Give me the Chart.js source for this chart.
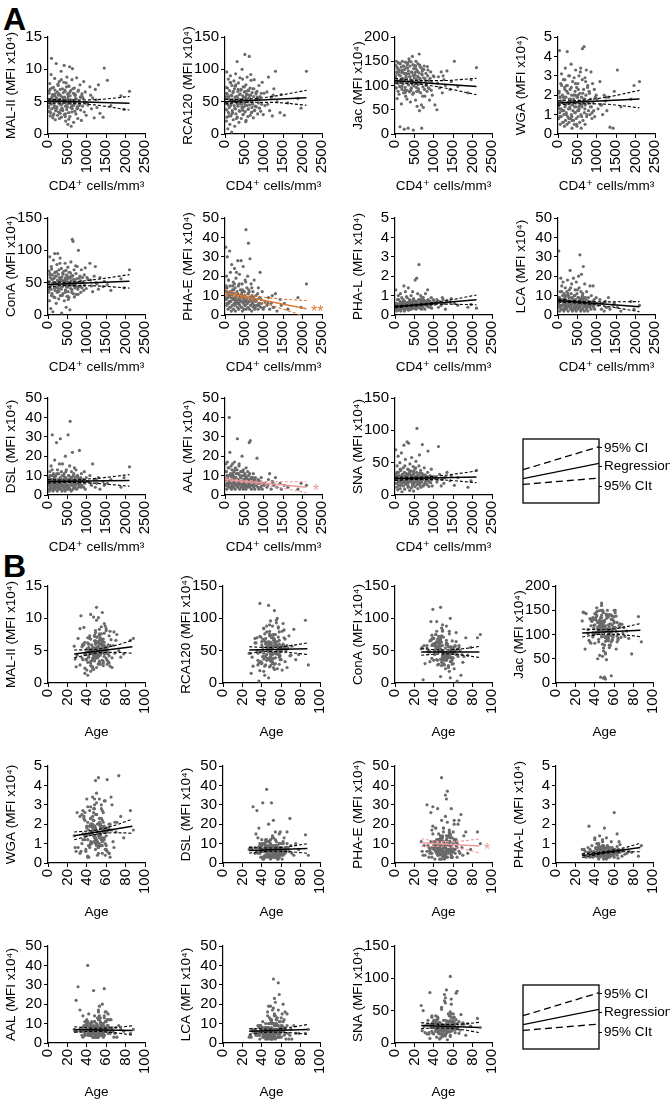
<!DOCTYPE html>
<html><head><meta charset="utf-8">
<script src="https://cdn.jsdelivr.net/npm/chart.js@4.4.1/dist/chart.umd.min.js"></script>
<style>
body{margin:0;background:#fff;width:670px;height:1102px;position:relative;overflow:hidden;font-family:'Liberation Sans',Arial,sans-serif}
canvas{position:absolute}
.lab{position:absolute;font-weight:bold;font-size:32px;line-height:1;color:#000}
</style></head><body>
<div class="lab" style="left:3px;top:3px">A</div>
<div class="lab" style="left:3px;top:550px">B</div>
<script>
// ---------- patient data (CD4 count, age) ----------
const cd4 = [15,20,30,38,45,55,60,72,80,85,90,98,
110,118,125,130,140,150,158,165,172,180,188,195,
205,212,220,230,238,245,250,262,268,275,283,290,
305,312,318,330,338,345,352,360,372,378,385,398,
402,415,420,428,440,448,455,468,472,480,488,495,
505,512,518,530,540,545,558,565,570,585,590,598,
605,618,625,630,645,652,660,672,680,688,698,
705,720,730,738,752,768,785,798,
810,825,842,850,860,875,890,
905,920,935,945,960,985,
1030,1080,1120,1150,1190,1220,1260,1300,1340,1420,1450,
1530,1620,1880,1960,2100,
8,25,50,65,95,105,135,145,178,198,
215,225,255,280,295,308,325,342,365,390,
410,435,452,462,478,500,522,535,552,578,
595,610,638,665,692,712,745,775,802,835,
52,148,242,325,408,515,612,695,880,1005,
33,177,266,357,444,533,640,760,1100,1240];
const age = [45,52,38,61,49,55,33,47,58,42,
50,66,41,53,29,57,48,44,62,51,
37,54,46,59,40,56,35,63,49,52,
43,71,48,55,39,60,47,53,31,58,
50,45,64,42,54,36,57,49,61,44,
52,27,56,47,40,68,51,46,59,43,
55,38,50,62,48,53,34,57,45,65,
49,41,54,60,47,52,39,58,44,73,
51,46,56,36,63,48,55,42,50,57,
45,69,53,40,58,47,52,30,61,49,
44,56,48,54,78,43,51,59,46,88,
50,55,41,64,47,53,38,57,49,85,
48,53,42,57,50,36,61,45,55,39,
52,47,58,43,66,49,54,33,60,46,
51,44,57,40,63,48,55,38,50,59,
46,53,41,62,49,56,35,70,47,52,
43,58,50,28,64,45,54,41,67,49,
56,37,51,60,44,53,47,75,42,58];

// ---------- lectin MFI (x10^4) ----------
const MAL = [5.2,4.1,6.3,3.5,7.8,5.0,2.8,4.6,9.2,5.5,11.7,3.9,
4.8,6.1,2.5,5.3,7.2,3.1,5.9,4.4,8.6,6.8,2.2,5.1,
3.7,10.9,5.6,4.2,6.5,2.9,5.0,7.5,3.4,6.0,4.7,8.1,
5.4,3.2,6.9,4.5,9.7,2.6,5.8,4.0,7.0,3.6,5.2,6.4,
4.9,10.6,3.0,5.7,6.6,4.3,2.0,7.9,5.1,3.8,8.8,4.6,
6.2,1.5,5.5,3.3,7.4,4.8,10.4,2.7,5.9,6.7,4.1,1.2,
5.3,8.4,3.9,10.1,4.4,6.3,1.8,5.0,7.1,3.5,4.7,
6.0,3.1,5.4,8.7,4.2,2.4,6.8,5.1,
4.6,7.6,3.7,5.8,2.1,6.2,4.3,
5.5,8.1,3.4,4.9,6.5,2.9,
4.5,7.3,3.9,5.6,2.5,6.9,4.1,7.6,3.2,2.6,10.2,
8.3,4.4,5.9,3.8,6.6,
4.3,6.6,5.0,3.3,7.1,5.8,2.9,4.8,6.2,3.6,
5.4,4.0,7.7,5.2,2.4,6.1,4.6,8.4,3.8,5.6,
4.9,6.8,3.1,5.3,7.3,4.2,5.9,2.3,6.4,4.7,
5.1,3.4,7.0,4.5,6.0,5.5,3.9,6.6,4.4,5.7,
6.9,4.1,5.3,3.7,8.0,5.0,4.3,6.2,5.8,4.8,
3.5,5.9,6.3,4.6,2.7,7.4,5.2,4.0,6.0,5.3];
const RCA = [55,38,72,20,96,48,62,8,45,85,33,58,
41,67,15,52,90,28,60,47,3,75,36,53,
64,22,50,82,44,70,12,57,39,93,31,49,
58,112,26,66,43,79,54,18,61,35,87,47,
52,69,24,46,100,37,59,73,30,55,42,65,
48,123,34,57,76,21,62,44,88,50,27,68,
39,56,120,45,71,29,60,83,33,51,64,
46,70,25,58,84,37,53,62,
42,66,31,55,48,75,40,
58,35,63,46,80,30,
44,65,88,36,57,28,70,97,50,33,61,
29,48,55,40,97,
49,63,37,71,55,28,80,44,59,33,
66,51,40,76,24,58,47,69,36,62,
53,42,85,30,57,73,45,19,61,50,
38,67,55,92,34,48,70,43,64,57,
26,79,52,46,68,35,60,41,54,63,
58,31,74,49,40,66,53,36,46,60];
const JAC = [118,142,95,150,128,73,110,135,88,147,105,122,
132,98,145,15,120,108,138,62,127,92,150,115,
103,140,85,125,10,133,112,96,148,78,119,137,
124,90,143,108,12,130,101,155,87,118,140,66,
112,149,95,128,106,160,82,121,8,135,99,116,
141,104,127,70,150,112,88,131,57,119,145,102,
93,126,165,48,113,138,85,107,60,12,122,
130,97,55,116,140,78,109,125,
103,88,120,132,95,110,70,
115,128,90,106,80,120,
60,50,118,95,128,85,112,100,130,92,108,
150,98,85,112,137,
120,95,138,105,128,82,145,112,98,131,
108,140,90,125,115,72,136,102,150,118,
93,127,110,143,85,121,104,135,96,129,
117,88,142,106,124,78,133,114,100,139,
126,97,113,146,89,122,107,135,94,118,
110,131,86,124,103,140,115,92,105,120];
const WGA = [1.5,0.8,2.2,4.3,1.1,1.9,0.5,2.6,1.3,0.9,3.1,1.7,
1.2,2.0,0.6,1.6,2.8,1.0,1.8,0.4,2.4,1.4,3.4,0.7,
1.9,1.1,2.5,0.5,4.25,1.6,0.9,2.1,1.3,3.0,0.6,1.8,
1.4,2.3,0.8,1.7,3.6,1.0,2.0,0.3,1.5,2.7,1.2,0.7,
1.8,2.9,0.5,1.4,2.2,1.1,3.3,0.8,1.6,2.4,0.4,1.9,
1.2,2.6,0.9,1.7,3.0,1.3,0.6,2.1,1.5,3.4,1.0,0.3,
1.9,1.4,2.8,4.4,0.7,1.6,2.3,4.5,1.1,1.8,0.5,
1.5,2.0,3.3,0.9,1.7,2.5,1.2,1.6,
2.1,1.0,1.8,3.2,1.4,0.8,2.6,
1.6,1.2,2.3,0.9,1.9,2.0,
1.3,2.7,1.5,1.0,2.0,1.7,1.2,1.9,0.35,0.3,2.2,
3.3,1.4,1.8,2.5,2.7,
1.4,2.1,0.9,1.7,2.5,1.2,0.6,1.9,2.8,1.5,
1.0,2.2,1.6,0.8,3.0,1.3,1.8,2.4,0.7,1.6,
2.0,1.1,2.6,1.4,0.5,1.9,2.3,1.2,1.7,3.2,
1.5,0.9,2.1,1.8,1.3,2.7,1.0,1.6,2.2,1.4,
1.9,1.2,2.5,0.8,1.7,2.0,1.5,2.9,1.1,1.8,
1.3,2.3,1.6,0.9,2.0,1.4,1.7,2.4,1.5,1.9];
const CONA = [52,35,68,22,90,45,58,10,40,75,30,55,
47,62,5,50,85,28,57,42,95,38,66,49,
60,18,48,78,35,54,95,41,63,25,70,46,
52,88,30,56,40,72,3,59,44,65,33,50,
48,68,22,53,80,37,58,12,47,62,29,55,
43,74,36,58,27,66,49,8,57,41,82,50,
60,39,117,46,114,33,55,70,28,52,45,
48,64,32,56,75,40,100,51,
44,60,35,53,70,42,58,
50,38,62,46,73,41,
55,80,45,36,60,75,48,40,58,44,52,
47,38,56,42,70,
50,38,62,45,71,33,56,48,27,60,
43,67,52,36,58,80,41,54,30,63,
47,55,39,69,44,51,24,58,46,65,
53,35,61,49,42,76,50,32,57,45,
64,48,37,55,52,29,60,44,50,58,
41,66,47,53,35,59,49,43,54,50];
const PHAE = [12,35,8,20,5,14,30,9,3,18,11,6,
10,33,4,15,22,7,12,2,26,9,5,13,
8,17,3,11,6,24,9,14,2,7,19,10,
6,12,4,28,8,15,3,10,21,5,9,13,
7,28,4,11,16,2,9,25,6,12,3,8,
10,5,18,7,44,3,9,14,6,20,4,11,
37,7,12,3,29,8,5,16,9,2,10,
6,12,4,9,18,3,7,10,
8,5,11,3,14,6,9,
22,4,8,6,12,3,
7,5,9,3,6,10,4,11,2,8,5,
6,3,9,4,16,
9,14,6,11,18,7,12,4,10,15,
8,13,5,9,22,7,11,6,16,8,
10,4,13,7,9,12,5,17,8,6,
11,7,9,5,14,6,8,4,7,5,
12,9,16,6,10,8,13,7,5,4,
15,11,8,6,12,7,9,5,6,4];
const PHAL = [0.4,1.3,0.3,0.6,0.2,0.5,0.8,0.35,0.45,1.0,0.25,0.55,
0.5,0.3,0.7,0.4,1.1,0.2,0.6,0.45,0.9,0.35,0.5,0.65,
0.4,0.8,0.3,1.5,0.55,0.2,0.7,0.45,1.2,0.35,0.6,0.5,
0.45,0.9,0.3,0.65,0.5,1.4,0.25,0.55,0.8,0.4,0.6,0.35,
0.5,1.0,0.3,0.7,0.45,0.6,1.2,0.35,0.55,0.8,0.4,0.5,
0.6,0.35,1.8,0.5,0.7,0.3,1.9,0.55,0.45,1.1,0.6,0.4,
0.5,2.6,0.45,0.8,0.35,0.65,1.0,0.5,0.3,0.7,0.55,
0.6,0.4,0.9,0.5,0.75,0.3,1.1,0.55,
0.65,0.45,1.3,0.5,0.8,0.4,0.6,
0.7,0.5,0.9,0.35,0.6,0.8,
0.55,0.8,0.4,0.7,0.5,0.9,0.6,0.3,0.75,0.65,0.85,
0.6,0.5,0.4,0.55,0.35,
0.45,0.6,0.35,0.5,0.8,0.4,0.55,0.3,0.65,0.5,
0.4,0.7,0.5,0.35,0.95,0.45,0.6,0.55,0.3,0.75,
0.5,0.4,0.65,0.55,0.85,0.45,0.6,0.35,0.7,0.5,
0.55,0.8,0.45,0.6,0.9,0.5,0.7,0.65,0.55,0.75,
0.35,0.5,0.6,0.45,0.55,0.7,0.5,0.8,0.65,0.7,
0.4,0.55,0.5,0.65,0.45,0.6,0.75,0.6,0.7,0.8];
const LCA = [6,33,4,9,2,12,5,19,7,3,8,15,
5,10,3,17,7,2,11,6,4,9,14,5,
8,3,6,12,4,18,7,2,10,5,9,13,
4,23,6,3,11,7,16,5,2,9,6,19,
7,4,10,3,13,6,8,2,17,5,11,4,
6,9,3,20,7,14,4,31,8,2,12,5,
21,6,3,10,7,25,4,9,2,16,6,
5,8,3,12,6,2,9,7,
4,15,6,3,10,5,7,
15,4,8,3,6,9,
5,8,3,6,2,7,4,9,3,5,6,
4,2,7,3,5,
6,9,4,7,12,5,8,3,10,6,
7,4,11,6,9,5,14,7,3,8,
6,10,5,7,4,13,6,9,5,8,
7,3,11,6,5,9,4,7,6,5,
8,6,10,4,7,5,9,6,5,6,
5,8,6,9,7,4,8,5,6,4];
const DSL = [6,3,9,2,12,5,8,4,15,7,3,10,
31,5,8,2,11,6,4,9,18,3,7,5,
10,4,27,6,2,13,8,5,3,11,7,4,
6,9,29,3,7,12,5,2,16,8,4,10,
5,11,3,7,2,20,9,6,13,4,8,3,
7,5,31,10,4,8,15,3,38,6,9,2,
12,5,8,22,3,10,6,4,14,7,9,
5,13,7,3,10,6,4,8,
23,6,9,4,11,5,7,
8,4,12,6,3,9,
7,10,5,16,8,4,6,9,3,7,5,
6,8,4,9,14.5,
7,5,10,4,8,13,6,3,9,6,
5,11,7,4,16,6,8,5,10,7,
4,9,6,12,5,8,3,10,7,6,
9,5,7,11,4,8,6,9,5,7,
6,10,4,8,7,5,9,6,8,7,
5,8,7,6,9,4,7,10,6,8];
const AAL = [8,16,5,12,3,9,17,6,14,4,10,7,
40,6,22,4,11,8,15,3,9,13,5,16,
7,10,4,12,6,17,8,3,14,5,9,11,
6,13,29,4,8,11,5,15,7,3,10,6,
9,4,12,7,20,5,10,3,13,6,8,4,
7,11,5,9,3,14,6,8,4,12,7,5,
10,6,27,4,8,28,5,9,3,7,6,
8,5,11,4,7,3,9,6,
5,19,7,4,8,3,6,
7,4,9,5,3,6,
6,4,8,11,3,7,5,9,4,6,3,
5,4,3,6,5,
8,12,6,9,5,14,7,10,4,11,
7,9,13,6,8,5,11,7,16,6,
9,7,5,12,8,6,10,4,9,7,
6,8,11,5,7,9,6,8,5,7,
10,7,8,6,12,5,7,9,6,5,
8,6,9,7,5,8,6,7,5,6];
const SNA = [25,70,18,33,12,45,28,8,60,22,35,15,
30,20,50,10,27,38,16,65,24,5,32,19,
26,42,14,77,21,35,9,29,55,17,31,23,
28,82,16,40,12,25,80,20,34,7,48,22,
26,37,11,58,19,30,14,44,24,6,33,18,
27,40,13,29,52,21,35,103,16,25,10,31,
22,45,19,62,15,28,38,12,26,20,33,
78,24,14,30,42,18,27,21,
29,16,35,68,22,13,26,
30,19,40,24,14,28,
26,20,75,32,14,24,18,28,35,22,30,
15,27,12,22,38,
24,30,18,35,21,28,40,15,26,32,
20,27,45,19,33,23,29,14,38,25,
22,31,17,28,36,20,26,42,24,30,
18,27,34,21,29,25,16,31,23,28,
35,22,27,19,30,26,24,33,20,28,
25,29,21,32,23,27,19,30,24,26];

// ---------- lectin axis definitions ----------
const lectinNames  = ['MAL-II','RCA120','Jac','WGA','ConA','PHA-E','PHA-L','LCA','DSL','AAL','SNA'];
const lectinYMax   = [15,150,200,5,150,50,5,50,50,50,150];
const lectinYStep  = [5,50,50,1,50,10,1,10,10,10,50];
const lectinValues = [MAL,RCA,JAC,WGA,CONA,PHAE,PHAL,LCA,DSL,AAL,SNA];

// ---------- panel A: MFI vs CD4 ----------
const orderA   = ['MAL-II','RCA120','Jac','WGA','ConA','PHA-E','PHA-L','LCA','DSL','AAL','SNA'];
const cd4TickMax = 2500, cd4TickStep = 500;
const knotsA   = [0,450,1200,2100];
const regA     = [[5.1,4.75],[50,56],[110,98],[1.6,1.8],[47,52],[11.5,3.2],[0.42,0.78],[7.5,4.3],[7,7.5],[8,4],[25,28]];
const ciUpA    = [[5.43,5.25,5.3,5.8],[53.5,53.6,57.9,67.5],[115,110.9,110.1,115],[1.71,1.72,1.88,2.25],[51,50.7,54.7,62.5],[13,10.7,8.7,7.4],[0.47,0.53,0.7,1.03],[8.3,7.36,6.77,6.9],[7.9,7.7,8.5,10.5],[8.9,7.7,6.9,6.8],[27.5,27.3,30,37]];
const ciLoA    = [[4.77,4.8,4.5,3.7],[46.5,49,48.9,44.5],[105,103.9,96.1,81],[1.49,1.56,1.54,1.35],[43,45.5,45.1,41.5],[10,8.7,4.9,-1],[0.37,0.46,0.56,0.53],[6.7,6.26,4.57,1.7],[6.1,6.5,6.1,4.5],[7.1,6.5,4.5,1.2],[22.5,23.9,23.4,19]];
const signifA  = ['','','','','','**','','','','*',''];
const signifPosA = [[0,0],[0,0],[0,0],[0,0],[0,0],[2380,3.5],[0,0],[0,0],[0,0],[2340,4.1],[0,0]];

// ---------- panel B: MFI vs age ----------
const orderB   = ['MAL-II','RCA120','ConA','Jac','WGA','DSL','PHA-E','PHA-L','AAL','LCA','SNA'];
const ageTickMax = 100, ageTickStep = 20;
const knotsB   = [27,50,70,87];
const regB     = [[4.5,5.6],[51,53],[48,48],[103,109],[1.4,1.9],[6.5,7.5],[10.5,8.8],[0.38,0.8],[7,6.5],[6,7],[27,24]];
const ciUpB    = [[5.1,5.22,5.84,6.6],[56,54.8,57.9,62],[53,51,53,56.5],[111,109.8,115.3,122.5],[1.6,1.7,1.96,2.27],[7.9,7.7,8.6,10],[12.5,11,11.4,12.4],[0.47,0.59,0.78,1.02],[8.4,7.6,8.0,8.9],[7.4,7.2,8.1,9.5],[31.5,28.6,29.4,32]];
const ciLoB    = [[3.9,4.62,4.74,4.6],[46,48.8,46.9,44],[43,45,43,39.5],[95,100.8,99.3,95.5],[1.2,1.48,1.56,1.53],[5.1,6.1,5.8,5],[8.5,8.6,7.2,5.2],[0.29,0.49,0.58,0.58],[5.6,6.0,5.2,4.1],[4.6,5.6,5.3,4.5],[22.5,23.2,20.4,16]];
const signifB  = ['','','','','','','*','','','',''];
const signifPosB = [[0,0],[0,0],[0,0],[0,0],[0,0],[0,0],[95,8.8],[0,0],[0,0],[0,0],[0,0]];

// ---------- legend key ----------
const keyX      = [0,1];
const keyUpper  = [0.52,0.88];
const keyReg    = [0.38,0.62];
const keyLower  = [0.29,0.39];
const keyTicks  = [0.86,0.57,0.26];
const keyLabels = ['95% CI','Regression','95% CIt'];

// ---------- layout / style ----------
const FONT = "'Liberation Sans', 'DejaVu Sans', Arial, sans-serif";
const colA = [48,225,395,558], rowA = [37,218,398];
const colB = [48,223,395,556], rowB = [586,766,946];
const fitColorsA = {'PHA-E':'#dd7a35','AAL':'#eb9b9b'};
const fitColorsB = {'PHA-E':'#eb9b9b'};
const PLOT_W = 97, PLOT_H = 97, YAX_W = 45, TOP_PAD = 12, RIGHT_PAD = 22;

const markPlugin = {
  id: 'mark',
  afterDatasetsDraw(chart, args, o) {
    if (!o || !o.text) return;
    const {ctx, scales} = chart;
    const px = scales.x.getPixelForValue(o.x), py = scales.y.getPixelForValue(o.y);
    ctx.save();
    ctx.fillStyle = o.color;
    ctx.font = '16px ' + FONT;
    ctx.textAlign = 'center';
    ctx.textBaseline = 'alphabetic';
    ctx.fillText(o.text, px, py + 9);
    ctx.restore();
  }
};

function makePlot(left, top, xs, name, xMax, xStep, xTitle, xAxisH, knots, reg, up, lo, color, mark, markPos) {
  const li = lectinNames.indexOf(name);
  const ys = lectinValues[li];
  const cv = document.createElement('canvas');
  cv.width = YAX_W + PLOT_W + RIGHT_PAD;
  cv.height = TOP_PAD + PLOT_H + xAxisH;
  cv.style.left = (left - YAX_W) + 'px';
  cv.style.top = (top - TOP_PAD) + 'px';
  document.body.appendChild(cv);
  const pts = xs.map((x, i) => ({x: x, y: ys[i]}));
  const regPts = [{x: knots[0], y: reg[0]}, {x: knots[knots.length - 1], y: reg[1]}];
  const upPts = knots.map((x, i) => ({x: x, y: up[i]}));
  const loPts = knots.map((x, i) => ({x: x, y: lo[i]}));
  const tickFont = {family: FONT, size: 15};
  const titleFont = {family: FONT, size: 13.5};
  new Chart(cv, {
    type: 'scatter',
    data: {datasets: [
      {data: regPts, showLine: true, borderColor: color, borderWidth: 1.5, pointRadius: 0},
      {data: upPts, showLine: true, borderColor: color, borderWidth: 1.1, borderDash: [3, 2], pointRadius: 0, cubicInterpolationMode: 'monotone'},
      {data: loPts, showLine: true, borderColor: color, borderWidth: 1.1, borderDash: [3, 2], pointRadius: 0, cubicInterpolationMode: 'monotone'},
      {data: pts, pointRadius: 1.6, backgroundColor: '#6a6a6a', borderWidth: 0}
    ]},
    options: {
      responsive: false, animation: false, devicePixelRatio: 1, events: [],
      layout: {padding: {left: 0, right: RIGHT_PAD, top: TOP_PAD, bottom: 0}},
      plugins: {legend: {display: false}, tooltip: {enabled: false},
        mark: {text: mark, x: markPos[0], y: markPos[1], color: color}},
      scales: {
        x: {type: 'linear', min: 0, max: xMax,
          ticks: {stepSize: xStep, minRotation: 90, maxRotation: 90, autoSkip: false, padding: 2, color: '#000', font: tickFont, callback: v => String(v)},
          grid: {drawOnChartArea: false, drawTicks: true, tickLength: 4, color: '#000', lineWidth: 1},
          border: {display: true, color: '#000', width: 1.2},
          title: {display: true, text: xTitle, color: '#000', font: titleFont, padding: 0},
          afterFit: s => { s.height = xAxisH; s.paddingLeft = 0; s.paddingRight = 0; }
        },
        y: {type: 'linear', min: 0, max: lectinYMax[li],
          ticks: {stepSize: lectinYStep[li], autoSkip: false, padding: 2, color: '#000', font: tickFont, callback: v => String(v)},
          grid: {drawOnChartArea: false, drawTicks: true, tickLength: 4, color: '#000', lineWidth: 1},
          border: {display: true, color: '#000', width: 1.2},
          title: {display: true, text: name + ' (MFI x10\u2074)', color: '#000', font: titleFont, padding: 0},
          afterFit: s => { s.width = YAX_W; s.paddingTop = 0; s.paddingBottom = 0; }
        }
      }
    },
    plugins: [markPlugin]
  });
}

const boxPlugin = {
  id: 'box',
  beforeDatasetsDraw(chart) {
    const {ctx, chartArea: a} = chart;
    ctx.save();
    ctx.strokeStyle = '#000'; ctx.lineWidth = 1.3;
    ctx.strokeRect(a.left, a.top, a.right - a.left, a.bottom - a.top);
    ctx.restore();
  }
};

function makeKey(left, top, right, bottom) {
  const cv = document.createElement('canvas');
  cv.width = (right - left) + 2 + 80;
  cv.height = (bottom - top) + 20;
  cv.style.left = (left - 1) + 'px';
  cv.style.top = (top - 10) + 'px';
  document.body.appendChild(cv);
  const mk = arr => keyX.map((x, i) => ({x: x, y: arr[i]}));
  new Chart(cv, {
    type: 'scatter',
    data: {datasets: [
      {data: mk(keyUpper), showLine: true, borderColor: '#000', borderWidth: 1.3, borderDash: [7, 4], pointRadius: 0},
      {data: mk(keyReg), showLine: true, borderColor: '#000', borderWidth: 1.3, pointRadius: 0},
      {data: mk(keyLower), showLine: true, borderColor: '#000', borderWidth: 1.3, borderDash: [7, 4], pointRadius: 0}
    ]},
    options: {
      responsive: false, animation: false, devicePixelRatio: 1, events: [],
      layout: {padding: {left: 1, right: 0, top: 10, bottom: 10}},
      plugins: {legend: {display: false}, tooltip: {enabled: false}},
      scales: {
        x: {type: 'linear', min: 0, max: 1, display: false},
        y: {type: 'linear', min: 0, max: 1, display: false},
        y2: {type: 'linear', position: 'right', min: 0, max: 1,
          afterBuildTicks: s => { s.ticks = keyTicks.map(v => ({value: v})); },
          ticks: {padding: 2, color: '#000', font: {family: FONT, size: 13.5}, callback: (v, i) => keyLabels[i]},
          grid: {drawOnChartArea: false, drawTicks: true, tickLength: 3, color: '#000'},
          border: {display: false},
          afterFit: s => { s.width = 80; s.paddingTop = 0; s.paddingBottom = 0; }
        }
      }
    },
    plugins: [boxPlugin]
  });
}

orderA.forEach((name, i) => {
  const c = i % 4, r = Math.floor(i / 4);
  makePlot(colA[c], rowA[r], cd4, name, cd4TickMax, cd4TickStep, 'CD4\u207A cells/mm\u00B3', 60,
    knotsA, regA[i], ciUpA[i], ciLoA[i], fitColorsA[name] || '#000', signifA[i], signifPosA[i]);
});
orderB.forEach((name, i) => {
  const c = i % 4, r = Math.floor(i / 4);
  makePlot(colB[c], rowB[r], age, name, ageTickMax, ageTickStep, 'Age', 57,
    knotsB, regB[i], ciUpB[i], ciLoB[i], fitColorsB[name] || '#000', signifB[i], signifPosB[i]);
});
makeKey(523, 439, 598, 503);
makeKey(523, 985, 598, 1049);
</script>
</body></html>
